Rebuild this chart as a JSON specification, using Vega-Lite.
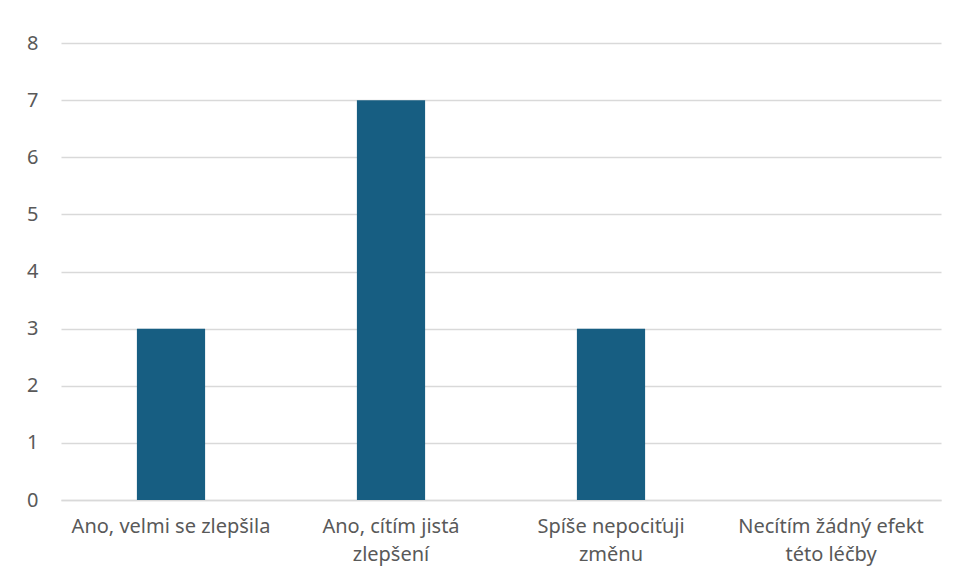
{
  "$schema": "https://vega.github.io/schema/vega-lite/v6.json",
  "autosize": "none",
  "width": 880,
  "height": 457,
  "padding": {"left": 61, "top": 43, "right": 13, "bottom": 85},
  "background": "white",
  "data": {
    "values": [
      {"odpoved": "Ano, velmi se zlepšila", "pocet": 3},
      {"odpoved": "Ano, cítím jistá zlepšení", "pocet": 7},
      {"odpoved": "Spíše nepociťuji změnu", "pocet": 3},
      {"odpoved": "Necítím žádný efekt této léčby", "pocet": 0}
    ]
  },
  "mark": {"type": "bar", "color": "#175E82", "width": {"band": 0.31}},
  "encoding": {
    "x": {
      "field": "odpoved",
      "type": "nominal",
      "sort": null,
      "scale": {"paddingInner": 0, "paddingOuter": 0},
      "axis": {
        "title": null,
        "labelAngle": 0,
        "ticks": false,
        "domain": true,
        "domainColor": "#D9D9D9",
        "domainWidth": 1.3,
        "labelPadding": 16,
        "labelFont": "Noto Sans",
        "labelFontSize": 20,
        "labelColor": "#595959",
        "labelLineHeight": 28,
        "labelBaseline": "top",
        "labelOverlap": false,
        "labelLimit": 400,
        "labelExpr": "datum.value == 'Ano, cítím jistá zlepšení' ? ['Ano, cítím jistá', 'zlepšení'] : datum.value == 'Spíše nepociťuji změnu' ? ['Spíše nepociťuji', 'změnu'] : datum.value == 'Necítím žádný efekt této léčby' ? ['Necítím žádný efekt', 'této léčby'] : datum.value"
      }
    },
    "y": {
      "field": "pocet",
      "type": "quantitative",
      "scale": {"domain": [0, 8], "nice": false},
      "axis": {
        "title": null,
        "values": [0, 1, 2, 3, 4, 5, 6, 7, 8],
        "ticks": false,
        "domain": false,
        "grid": true,
        "gridColor": "#D9D9D9",
        "gridWidth": 1.3,
        "labelPadding": 23,
        "labelOverlap": false,
        "labelFont": "Noto Sans",
        "labelFontSize": 20,
        "labelColor": "#595959"
      }
    }
  },
  "config": {"view": {"stroke": null}}
}
